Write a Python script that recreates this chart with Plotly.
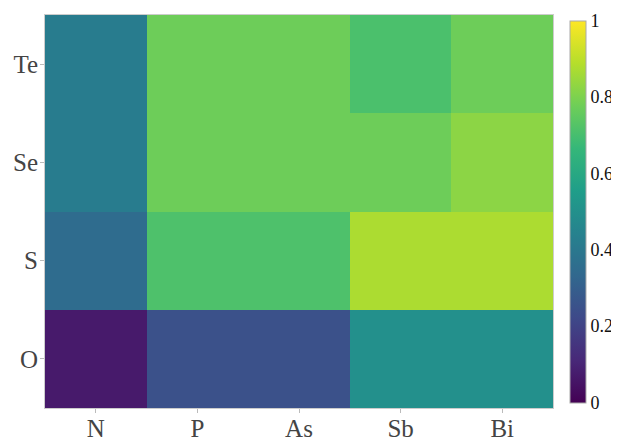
import plotly.graph_objects as go

x_labels = ["N", "P", "As", "Sb", "Bi"]
y_labels = ["O", "S", "Se", "Te"]
z_O = [0.07, 0.25, 0.25, 0.50, 0.50]
z_S = [0.35, 0.715, 0.715, 0.875, 0.875]
z_Se = [0.42, 0.775, 0.775, 0.775, 0.825]
z_Te = [0.42, 0.775, 0.775, 0.71, 0.775]
z = [z_O, z_S, z_Se, z_Te]
cbar_ticks = [0, 0.2, 0.4, 0.6, 0.8, 1]
cbar_text = ["0", "0.2", "0.4", "0.6", "0.8", "1"]

fig = go.Figure(go.Heatmap(
    z=z, x=x_labels, y=y_labels,
    colorscale="Viridis", zmin=0, zmax=1,
    colorbar=dict(thickness=16, outlinewidth=1, outlinecolor="#aaa",
                  x=1.0, xanchor="left", xpad=17,
                  len=0.972, ypad=0, y=0.5, yanchor="middle",
                  tickvals=cbar_ticks, ticktext=cbar_text,
                  ticks="", ticklen=0,
                  tickfont=dict(family="Liberation Serif", size=18, color="#111")),
))
axis_common = dict(showline=True, linecolor="#ccc", linewidth=1, mirror=True,
                   ticks="outside", ticklen=4, tickcolor="#bbb", automargin=False,
                   tickfont=dict(family="Liberation Serif", size=25, color="#444"))
fig.update_xaxes(ticklabelstandoff=-6, **axis_common)
fig.update_yaxes(ticklabelstandoff=-3, **axis_common)
fig.update_layout(width=619, height=441, margin=dict(l=37, r=74, t=7, b=41, autoexpand=False),
                  paper_bgcolor="white", plot_bgcolor="white",
                  font=dict(family="Liberation Serif"))
fig.write_html("out.html")
